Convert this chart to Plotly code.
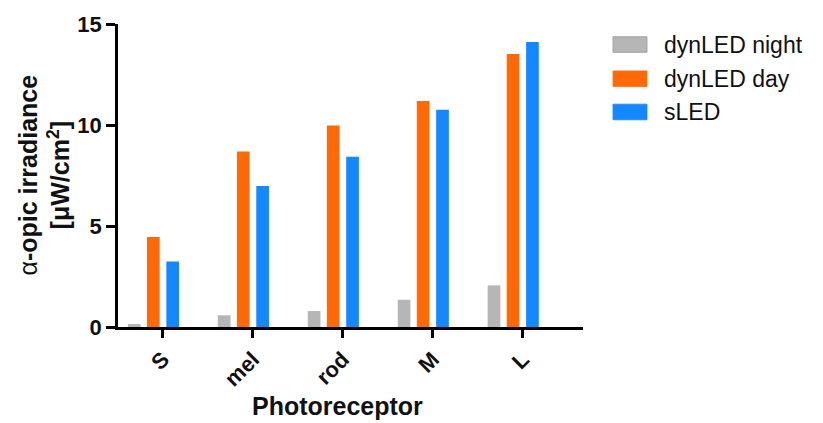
import plotly.graph_objects as go

categories = ["S", "mel", "rod", "M", "L"]
series_names = ["dynLED night", "dynLED day", "sLED"]
night = [0.15, 0.58, 0.79, 1.35, 2.06]
day = [4.45, 8.69, 9.97, 11.19, 13.51]
sled = [3.24, 6.98, 8.43, 10.76, 14.11]
y_ticks = [0, 5, 10, 15]

colors = ["#b6b6b6", "#ff6a07", "#1587ff"]
offsets = [-0.39, -0.178, 0.0375]
bar_w = 0.141
FONT = "Arial, Liberation Sans, Helvetica, sans-serif"

xpos = list(range(len(categories)))
fig = go.Figure()
for name, vals, col, off in zip(series_names, [night, day, sled], colors, offsets):
    fig.add_trace(go.Bar(
        x=xpos, y=vals, name=name, marker=dict(color=col, line=dict(width=0)),
        width=bar_w, offset=off, showlegend=False,
    ))

# custom legend (large swatches like the original)
L0, L1 = 118, 583
T0, T1 = 17, 327
def px(x):
    return (x - L0) / (L1 - L0)
def py(y):
    return (T1 - y) / (T1 - T0)

shapes = []
annotations = []
row_y = [38, 73, 107]
for name, col, yy in zip(series_names, colors, row_y):
    shapes.append(dict(type="rect", xref="paper", yref="paper",
                       x0=px(613), x1=px(647), y0=py(yy + 8), y1=py(yy - 8),
                       fillcolor=col, line=dict(color="#999999" if col == colors[0] else col, width=0.8)))
    annotations.append(dict(xref="paper", yref="paper", x=px(662), y=py(yy),
                            xanchor="left", yanchor="middle", text=name, showarrow=False,
                            font=dict(family=FONT, size=23, color="#111111")))

annotations.append(dict(xref="paper", yref="paper", x=px(44), y=0.5,
                        xanchor="center", yanchor="middle", textangle=-90,
                        text="\u03b1<b>-opic irradiance</b><br><b>[\u03bcW/cm<sup>2</sup>]</b>",
                        showarrow=False, font=dict(family=FONT, size=25, color="#111111")))
annotations.append(dict(xref="paper", yref="paper", x=px(337), y=py(408),
                        xanchor="center", yanchor="middle", text="<b>Photoreceptor</b>",
                        showarrow=False, font=dict(family=FONT, size=25, color="#111111")))

fig.update_layout(
    width=823, height=423,
    margin=dict(l=L0, r=823 - L1, t=T0, b=423 - T1),
    paper_bgcolor="white", plot_bgcolor="white",
    barmode="overlay",
    shapes=shapes, annotations=annotations,
    xaxis=dict(range=[-0.5, 4.67], tickvals=xpos, ticktext=["<b>%s</b>" % c for c in categories],
               tickangle=-45, showgrid=False, zeroline=False, showline=True,
               linecolor="black", linewidth=2.5, ticks="outside", ticklen=8, tickwidth=2.5,
               tickcolor="black", tickfont=dict(family=FONT, size=22, color="#111111")),
    yaxis=dict(range=[0, 15], tickvals=y_ticks, ticktext=["<b>%d</b>" % t for t in y_ticks],
               showgrid=False, zeroline=False, showline=True,
               linecolor="black", linewidth=2.5, ticks="outside", ticklen=9, tickwidth=2.5,
               tickcolor="black", tickfont=dict(family=FONT, size=22, color="#111111")),
)

fig.write_html("out.html", config={"displayModeBar": False},
               post_script="document.body.style.margin='0px';document.body.style.overflow='hidden';")
